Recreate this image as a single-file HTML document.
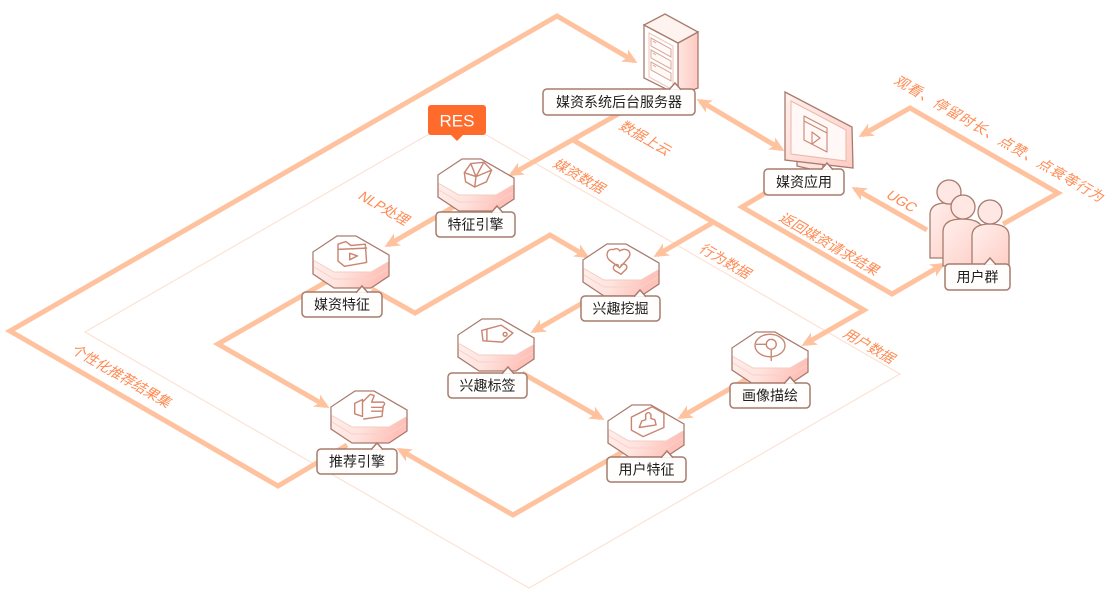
<!DOCTYPE html>
<html><head><meta charset="utf-8"><style>
html,body{margin:0;padding:0;background:#fff;}
svg{display:block;}
text{font-family:"Liberation Sans","Noto Sans CJK SC",sans-serif;}
.lbl{font-size:14px;fill:#ff8a52;}
.nm{font-size:14px;fill:#1e1e1e;text-anchor:middle;}
.th{fill:none;stroke:#ffc29f;stroke-width:5;stroke-linejoin:miter;}
.ic{fill:none;stroke:#c98672;stroke-width:1.1;stroke-linejoin:round;stroke-linecap:round;}
.bx{fill:#fffefd;stroke:#a77b6d;stroke-width:1.5;}
.ol{stroke:#a77b6d;stroke-width:1.3;}
</style></head><body>
<svg width="1119" height="591" viewBox="0 0 1119 591" xmlns="http://www.w3.org/2000/svg">
<defs>
<marker id="ah" markerWidth="16" markerHeight="14" refX="11" refY="7" orient="auto" markerUnits="userSpaceOnUse"><path d="M0,0 L15,7 L0,14 L4,7 Z" fill="#ffc29f"/></marker>
<marker id="ahs" markerWidth="16" markerHeight="14" refX="11" refY="7" orient="auto-start-reverse" markerUnits="userSpaceOnUse"><path d="M0,0 L15,7 L0,14 L4,7 Z" fill="#ffc29f"/></marker>
<linearGradient id="tg" x1="0" y1="0" x2="1" y2="0.3"><stop offset="0" stop-color="#fff1ee"/><stop offset="0.55" stop-color="#ffe3de"/><stop offset="1" stop-color="#ffc2ba"/></linearGradient>
<linearGradient id="sg" x1="0" y1="0" x2="1" y2="0"><stop offset="0" stop-color="#ffe6e2"/><stop offset="1" stop-color="#ffc9c1"/></linearGradient>
<linearGradient id="pg" x1="0" y1="0" x2="1" y2="1"><stop offset="0" stop-color="#fff0ed"/><stop offset="1" stop-color="#ffcdc5"/></linearGradient>
<g id="tile">
<path d="M0,17 L24,1 L43,1 L76,20 L76,41 L58,53 L21,53 L0,39 Z" fill="url(#tg)" class="ol"/>
<path d="M0.7,17.3 L24.2,1.7 L42.8,1.7 L75.3,20.4 L75.3,27 L58,37 L21,37 L0.7,25.5 Z" fill="#ffffff"/>
<path d="M1,25.5 L21,37 L58,37 L75,27" fill="none" stroke="#f3cdc3" stroke-width="1"/>
<path d="M1,32 L21,44 L58,44 L75,34" fill="none" stroke="#f5d2c9" stroke-width="1"/>
</g>
</defs>

<path d="M457,118 L85,332 L529,588 L900,374 Z" fill="none" stroke="#fde2d6" stroke-width="1.2"/>

<path class="th" d="M347,445 L278,486 L10,331 L557,16 L634,61" marker-end="url(#ah)"/>
<path class="th" d="M700,101 L781,149" marker-start="url(#ahs)" marker-end="url(#ahs)"/>
<path class="th" d="M620,113 L512,174" marker-end="url(#ah)"/>
<path class="th" d="M573,140 L864,310 L805,344" marker-end="url(#ah)"/>
<path class="th" d="M712,223 L657,255" marker-end="url(#ah)"/>
<path class="th" d="M455,206 L388,245" marker-end="url(#ah)"/>
<path class="th" d="M372,289 L415,313 L550,235 L586,256" marker-end="url(#ah)"/>
<path class="th" d="M326,282 L218,344 L326,406" marker-end="url(#ah)"/>
<path class="th" d="M586,301 L534,331" marker-end="url(#ah)"/>
<path class="th" d="M522,373 L601,418" marker-end="url(#ah)"/>
<path class="th" d="M752,376 L681,417" marker-end="url(#ah)"/>
<path class="th" d="M624,451 L513,515 L400,450" marker-end="url(#ah)"/>
<path class="th" d="M1003,224 L1058,193 L910,108 L862,135" marker-end="url(#ah)"/>
<path class="th" d="M927,230 L855,189" marker-end="url(#ah)"/>
<path class="th" d="M772,189 L742,207 L892,294 L942,265" marker-end="url(#ah)"/>

<text class="lbl" transform="translate(618,128) rotate(30) skewX(-15)">数据上云</text>
<text class="lbl" transform="translate(552,166) rotate(30) skewX(-15)">媒资数据</text>
<text class="lbl" transform="translate(357,198) rotate(30) skewX(-15)">NLP处理</text>
<text class="lbl" transform="translate(698,251) rotate(30) skewX(-15)">行为数据</text>
<text class="lbl" transform="translate(842,336) rotate(30) skewX(-15)">用户数据</text>
<text class="lbl" transform="translate(70,352) rotate(30) skewX(-15)">个性化推荐结果集</text>
<text class="lbl" transform="translate(778,220) rotate(30) skewX(-15)">返回媒资请求结果</text>
<text class="lbl" transform="translate(885,197) rotate(30) skewX(-15)">UGC</text>
<text class="lbl" style="letter-spacing:1px" transform="translate(893,83) rotate(30) skewX(-15)">观看、停留时长、点赞、点衰等行为</text>

<g>
<path d="M678,43 L698,32 L698,88 L678,95 Z" fill="url(#sg)" class="ol"/>
<path d="M644,25 L678,43 L678,95 L644,78 Z" fill="#fff" class="ol"/>
<path d="M644,25 L665,14 L698,32 L678,43 Z" fill="#fff3f0" class="ol"/>
<path d="M649,33 L673,46 L673,90 L649,77 Z" fill="none" stroke="#efc3b6" stroke-width="1"/>
<path d="M651,38 L671,49 L671,57 L651,46 Z M651,50 L671,61 L671,69 L651,58 Z M651,62 L671,73 L671,81 L651,70 Z" fill="#fffaf8" stroke="#d9a898" stroke-width="1"/>
<path d="M653,41 L656,43 M653,53 L656,55 M653,65 L656,67" stroke="#d9a898" stroke-width="1"/>
</g>

<g>
<path d="M797,150 L823,162 L823,172 L797,166 Z" fill="#ffe3de" class="ol"/>
<path d="M785,92 L852,127 L853,168 L785,160 Z" fill="url(#pg)" class="ol"/>
<path d="M791,101 L846,130 L846,161 L791,154 Z" fill="#fff8f6" stroke="#e9b8aa" stroke-width="1"/>
<path d="M804,116 L827,128 L827,152 L804,140 Z" fill="none" class="ic"/>
<path d="M804,121 L827,133" class="ic"/>
<path d="M812,132 L820,138 L812,144 Z" class="ic"/>
</g>

<g>
<path d="M930,258 L930,215 Q930,203 946,203 Q962,203 962,215 L962,258 Z" fill="url(#pg)" class="ol"/>
<circle cx="949" cy="192" r="12" fill="#ffe8e4" class="ol"/>
<path d="M943,266 L943,232 Q943,219 962,219 Q983,219 983,232 L983,266 Z" fill="url(#pg)" class="ol"/>
<circle cx="963" cy="207" r="12" fill="#ffe8e4" class="ol"/>
<path d="M972,268 L972,236 Q972,224 990,224 Q1009,224 1009,236 L1009,268 Z" fill="url(#pg)" class="ol"/>
<circle cx="990" cy="212" r="12" fill="#ffe8e4" class="ol"/>
</g>

<use href="#tile" x="438" y="158"/>
<g transform="translate(438,158) translate(38,16) scale(1.3) translate(-38,-16)"><path class="ic" d="M29,15 L34,8 L44,7 L50,13 L46,22 L37,26 L30,22 Z M34,8 L38,18 L44,7 M29,15 L38,18 L50,13 M38,18 L37,26"/></g>
<use href="#tile" x="313" y="235"/>
<g transform="translate(313,235) translate(38,17) scale(1.3) translate(-38,-17)"><path class="ic" d="M28,11 L34,9 L38,12 L49,11 L50,25 L33,28 L28,24 Z M28,15 L50,14"/><path class="ic" d="M37,18 L43,20 L37,23 Z"/></g>
<use href="#tile" x="583" y="243"/>
<g transform="translate(583,243) translate(38,17) scale(1.3) translate(-38,-17)"><path class="ic" d="M32,9 C27,8 26,14 29,17 L37,23 L44,15 C47,10 41,7 37,10 C36,8 34,8 32,9 Z"/><path class="ic" d="M36,21 C33,19 31,23 33,25 L38,28 L42,24 C44,21 40,19 38,21"/></g>
<use href="#tile" x="458" y="318"/>
<g transform="translate(458,318) translate(38,15) scale(1.3) translate(-38,-15)"><path class="ic" d="M27,13 L42,9 L51,15 L43,22 L28,21 Z M31,12 L31,21"/><circle class="ic" cx="45" cy="16" r="1.5"/></g>
<use href="#tile" x="732" y="331"/>
<g transform="translate(732,331) translate(38,17) scale(1.25) translate(-38,-17)"><ellipse class="ic" cx="38" cy="15" rx="12" ry="9"/><circle class="ic" cx="39" cy="14" r="4"/><path class="ic" d="M39,18 L39,27 M27,14 L35,14"/></g>
<use href="#tile" x="608" y="404"/>
<g transform="translate(608,404) translate(39,17) scale(1.3) translate(-39,-17)"><path class="ic" d="M27,14 L43,6 L52,11 L52,22 L36,29 L27,24 Z"/><path class="ic" d="M33,22 L35,17 L38,16 L38,12 Q40,9 42,12 L42,15 L45,16 L46,20 Z"/></g>
<use href="#tile" x="331" y="390"/>
<g transform="translate(331,390) translate(38,16) scale(1.3) translate(-38,-16)"><path class="ic" d="M27,14 L33,11 L33,24 L27,22 Z M33,13 L39,7 L42,8 L40,13 L49,13 Q51,14 49,16 L48,24 L34,26"/><path class="ic" d="M40,17 L48,17 M40,20 L48,20"/></g>

<g><rect class="bx" x="543" y="89" width="152" height="26" rx="4"/><path class="bx" d="M669,89.8 L675,83 L681,89.8"/><text class="nm" x="619" y="107">媒资系统后台服务器</text></g>
<g><rect class="bx" x="764" y="169" width="80" height="26" rx="4"/><path class="bx" d="M821,169.8 L827,163 L833,169.8"/><text class="nm" x="804" y="187">媒资应用</text></g>
<g><rect class="bx" x="945" y="264" width="65" height="26" rx="4"/><path class="bx" d="M984,264.8 L990,258 L996,264.8"/><text class="nm" x="977.5" y="282">用户群</text></g>
<g><rect class="bx" x="436" y="212" width="79" height="25" rx="4"/><path class="bx" d="M491,212.8 L497,206 L503,212.8"/><text class="nm" x="475.5" y="229.5">特征引擎</text></g>
<g><rect class="bx" x="302" y="292" width="80" height="25" rx="4"/><path class="bx" d="M356,292.8 L362,286 L368,292.8"/><text class="nm" x="342" y="309.5">媒资特征</text></g>
<g><rect class="bx" x="581" y="296" width="79" height="25" rx="4"/><path class="bx" d="M634,296.8 L640,290 L646,296.8"/><text class="nm" x="620.5" y="313.5">兴趣挖掘</text></g>
<g><rect class="bx" x="448" y="373" width="79" height="25" rx="4"/><path class="bx" d="M502,373.8 L508,367 L514,373.8"/><text class="nm" x="487.5" y="390.5">兴趣标签</text></g>
<g><rect class="bx" x="730" y="383" width="80" height="25" rx="4"/><path class="bx" d="M784,383.8 L790,377 L796,383.8"/><text class="nm" x="770" y="400.5">画像描绘</text></g>
<g><rect class="bx" x="607" y="457" width="79" height="25" rx="4"/><path class="bx" d="M661,457.8 L667,451 L673,457.8"/><text class="nm" x="646.5" y="474.5">用户特征</text></g>
<g><rect class="bx" x="317" y="449" width="80" height="25" rx="4"/><path class="bx" d="M371,449.8 L377,443 L383,449.8"/><text class="nm" x="357" y="466.5">推荐引擎</text></g>

<rect x="428" y="105" width="58" height="30" rx="3" fill="#ff6b2b"/>
<path d="M450,134 L457,141 L464,134 Z" fill="#ff6b2b"/>
<text x="457" y="126.5" font-size="17" fill="#fff" text-anchor="middle">RES</text>
</svg>
</body></html>
